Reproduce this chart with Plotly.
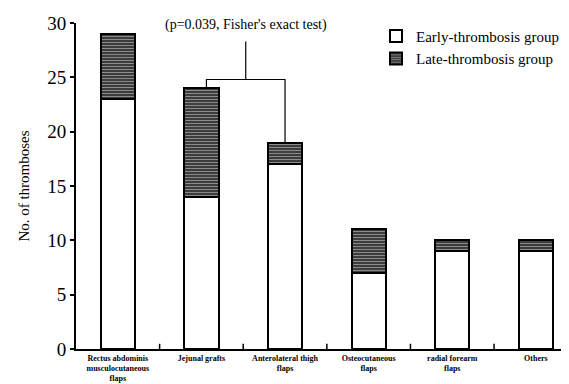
import plotly.graph_objects as go

categories = ["Rectus abdominis<br>musculocutaneous<br>flaps", "Jejunal grafts",
              "Anterolateral thigh<br>flaps", "Osteocutaneous<br>flaps",
              "radial forearm<br>flaps", "Others"]
early = [23, 14, 17, 7, 9, 9]
late = [6, 10, 2, 4, 1, 1]
y_ticks = [0, 5, 10, 15, 20, 25, 30]

FONT = "Liberation Serif, Times New Roman, serif"
xs = list(range(len(categories)))

fig = go.Figure()
fig.add_trace(go.Bar(
    x=xs, y=early, name="Early-thrombosis group", width=0.41,
    marker=dict(color="white", line=dict(color="black", width=2)),
))
fig.add_trace(go.Bar(
    x=xs, y=late, name="Late-thrombosis group", width=0.41,
    marker=dict(color="#3c3c3c", line=dict(color="black", width=2),
                pattern=dict(shape="-", fgcolor="#d8d8d8", bgcolor="#3c3c3c",
                             size=3, solidity=0.35, fillmode="overlay")),
))

totals = [e + l for e, l in zip(early, late)]
# bracket between Jejunal grafts (1) and Anterolateral thigh flaps (2)
i, j = 1, 2
top = max(totals[i], totals[j]) + 0.8
xl, xr = i + 0.06, j + 0.0
xm = (xl + xr) / 2
fig.add_shape(type="path", xref="x", yref="y",
              path=f"M {xl},{totals[i]} L {xl},{top} L {xr},{top} L {xr},{totals[j]}",
              line=dict(color="black", width=1.2))
fig.add_shape(type="line", xref="x", yref="y", x0=xm, x1=xm, y0=top, y1=top + 3.5,
              line=dict(color="black", width=1.2))
fig.add_annotation(x=xm, xref="x", y=0.995, yref="paper", yanchor="middle",
                   text="(p=0.039, Fisher's exact test)", showarrow=False,
                   font=dict(family=FONT, size=14, color="black"))

# small boundary ticks between categories on the x axis
for k in xs[:-1]:
    fig.add_shape(type="line", xref="x", yref="paper", x0=k + 0.5, x1=k + 0.5,
                  y0=0, y1=0.016, line=dict(color="black", width=1.5))

fig.update_layout(
    barmode="stack",
    width=569, height=384,
    margin=dict(l=68, r=1, t=15, b=43, autoexpand=False),
    paper_bgcolor="white", plot_bgcolor="white",
    font=dict(family=FONT, color="black"),
    showlegend=True,
    legend=dict(x=0.6, y=1.01, xanchor="left", yanchor="top", traceorder="normal",
                font=dict(family=FONT, size=15, color="black"),
                bgcolor="rgba(0,0,0,0)", itemwidth=30, tracegroupgap=3),
    xaxis=dict(
        tickmode="array", tickvals=xs, ticktext=[f"<b>{c}</b>" for c in categories],
        range=[-0.5, 5.48], showline=True, linecolor="black", linewidth=2,
        ticks="", showgrid=False, zeroline=False, automargin=False,
        tickfont=dict(family=FONT, size=8, color="black"),
    ),
    yaxis=dict(
        range=[0, 30], tickvals=y_ticks, showline=True, linecolor="black", linewidth=2,
        ticks="outside", ticklen=4, tickwidth=1.5, tickcolor="black",
        showgrid=False, zeroline=False, automargin=False,
        tickfont=dict(family=FONT, size=19, color="black"),
        title=dict(text="No. of thromboses", font=dict(family=FONT, size=15, color="black"),
                   standoff=14),
    ),
)

fig.write_html("out.html")
